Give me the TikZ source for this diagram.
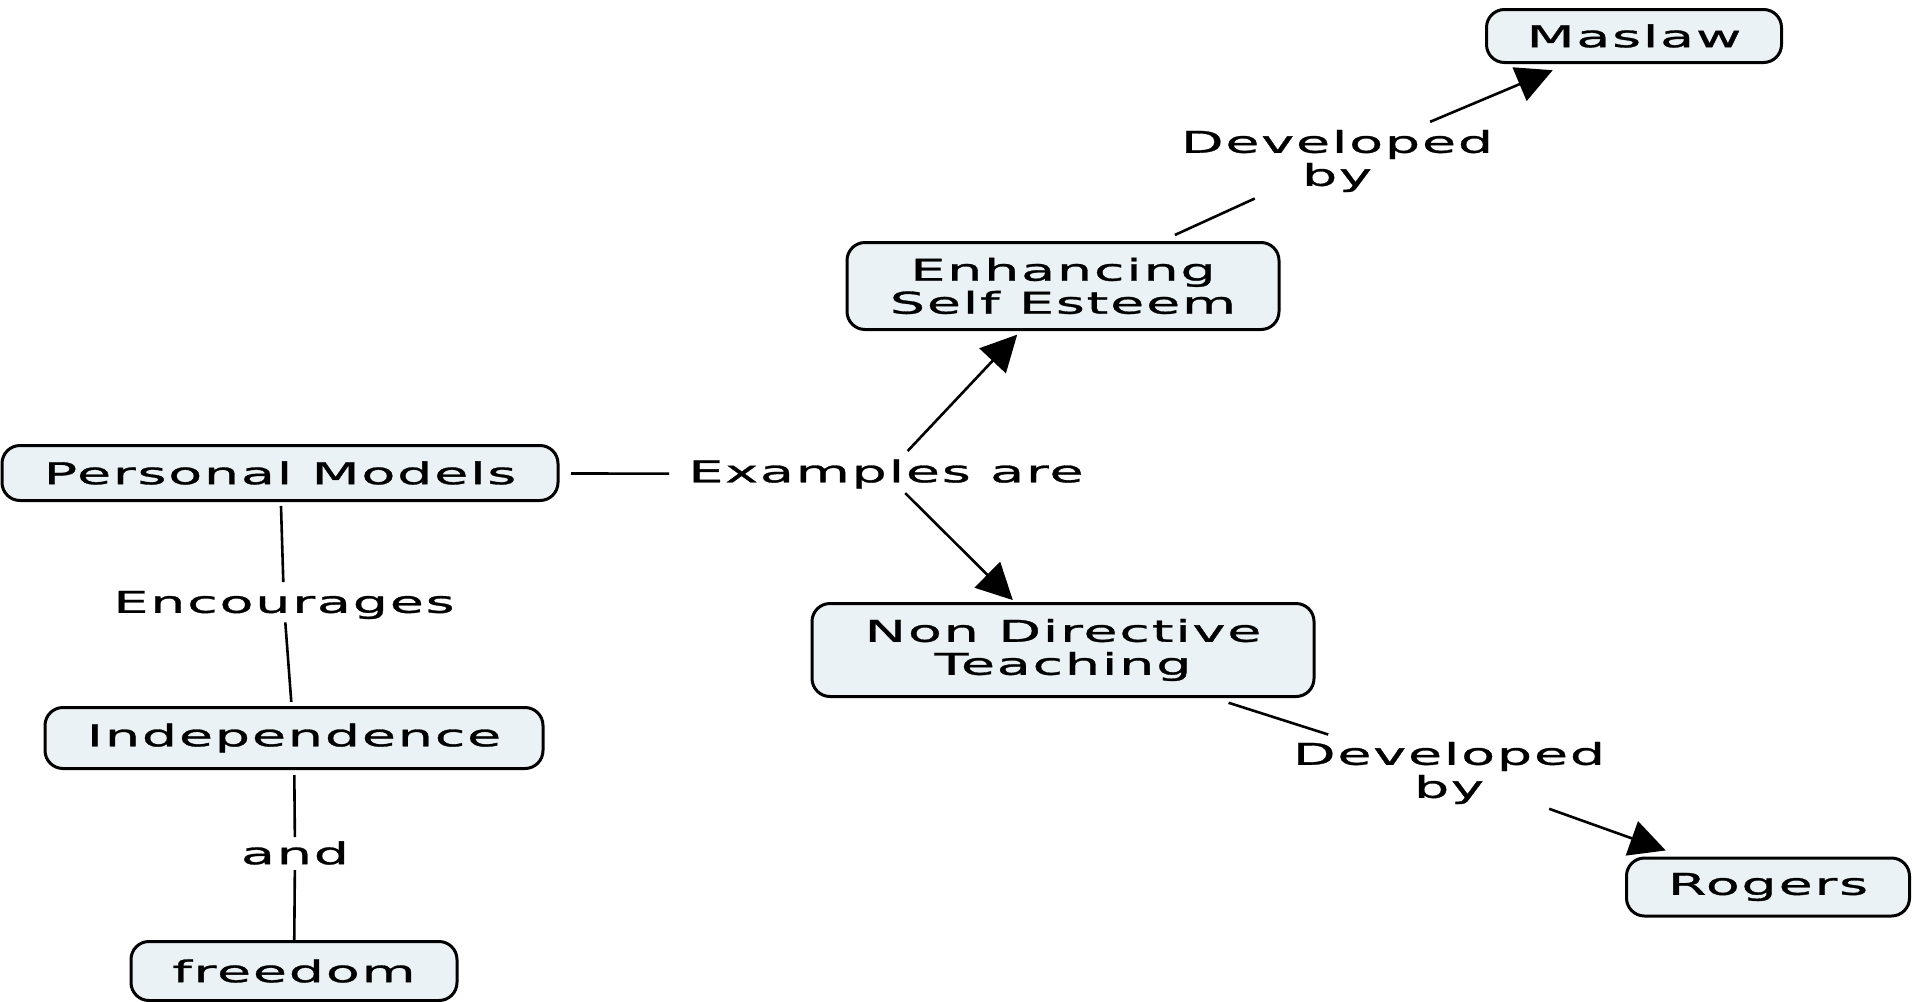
\documentclass[tikz,border=0pt]{standalone}
\usepackage{fontspec}
\setmainfont[FakeStretch=1.85,LetterSpace=6,FakeBold=1]{DejaVu Sans}
\usetikzlibrary{arrows.meta}
\definecolor{boxfill}{HTML}{EBF2F6}

\begin{document}
\begin{tikzpicture}[x=0.5pt,y=-0.5pt,
  txt/.style={font=\fontsize{15}{16.5}\selectfont, align=center},
  concept/.style={txt, draw=black, line width=1.5pt, fill=boxfill,
    rounded corners=9pt, inner sep=0pt},
  linklabel/.style={txt, inner sep=0pt},
  link/.style={line width=1.3pt},
  arrowlink/.style={link, -{Triangle[length=18pt,width=18pt]}},
  gap/.style 2 args={shorten <=#1, shorten >=#2},
]
\useasboundingbox (0,0) rectangle (1913,1002);

% concepts
\node[concept, minimum width=147.5pt, minimum height=26.5pt] (maslaw) at (1634,36) {Maslaw};
\node[concept, minimum width=216pt, minimum height=43.5pt] (ese) at (1063,286) {Enhancing\\Self Esteem};
\node[concept, minimum width=278pt, minimum height=27.5pt] (pm) at (280,473) {Personal Models};
\node[concept, minimum width=251pt, minimum height=46.5pt] (ndt) at (1063,650) {Non Directive\\Teaching};
\node[concept, minimum width=141.5pt, minimum height=29pt] (rogers) at (1768,887) {Rogers};
\node[concept, minimum width=249pt, minimum height=30.5pt] (ind) at (294,738) {Independence};
\node[concept, minimum width=163pt, minimum height=29.5pt] (free) at (294,971) {freedom};

% linking phrases
\node[linklabel] (ex) at (886,474) {Examples are};
\node[linklabel] (dev1) at (1337,161) {Developed\\by};
\node[linklabel] (dev2) at (1449,773) {Developed\\by};
\node[linklabel] (enc) at (284,605) {Encourages};
\node[linklabel] (and) at (295,853) {and};

% connectors
\draw[link, gap={145.5pt}{108.5pt}] (pm.center) -- (ex.center);
\draw[arrowlink, gap={15.8pt}{33.4pt}] (ex.center) -- (ese.center);
\draw[arrowlink, gap={13.6pt}{35.4pt}] (ex.center) -- (ndt.center);
\draw[link, gap={61.5pt}{45.2pt}] (ese.center) -- (dev1.center);
\draw[arrowlink, gap={50.5pt}{44.1pt}] (dev1.center) -- (maslaw.center);
\draw[link, gap={86.9pt}{63.4pt}] (ndt.center) -- (dev2.center);
\draw[arrowlink, gap={53.2pt}{54.3pt}] (dev2.center) -- (rogers.center);
\draw[link, gap={16.5pt}{11.5pt}] (pm.center) -- (enc.center);
\draw[link, gap={8.7pt}{18.1pt}] (enc.center) -- (ind.center);
\draw[link, gap={18.5pt}{8pt}] (ind.center) -- (and.center);
\draw[link, gap={8.5pt}{15.5pt}] (and.center) -- (free.center);
\end{tikzpicture}
\end{document}
